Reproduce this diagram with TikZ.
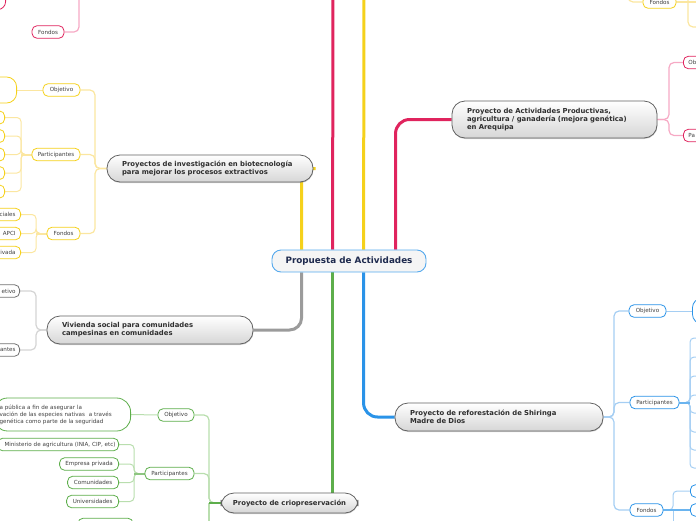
\documentclass[tikz,border=0pt]{standalone}
\usepackage{fontspec}
\setmainfont{DejaVu Sans}
\usetikzlibrary{calc,shadows}
\pgfdeclarelayer{bg}
\pgfsetlayers{bg,main}
\definecolor{pinkM}{HTML}{E0245E}
\definecolor{pinkL}{HTML}{F6A9C4}
\definecolor{yelM}{HTML}{F5D11B}
\definecolor{yelL}{HTML}{FBE6A0}
\definecolor{grayM}{HTML}{9B9B9B}
\definecolor{grayL}{HTML}{D4D4D4}
\definecolor{greM}{HTML}{5DAE4B}
\definecolor{greL}{HTML}{B9DEAE}
\definecolor{bluM}{HTML}{2A93E8}
\definecolor{bluL}{HTML}{A5CEF3}
\definecolor{navy}{HTML}{1E2A4E}
\tikzset{
  central/.style={draw=bluM!80, line width=0.9pt, fill=black!4, rounded corners=9pt,
    minimum width=154pt, minimum height=22pt, inner sep=0pt,
    font=\fontsize{8.8}{10}\selectfont\bfseries, text=navy},
  topic/.style={draw=black!62, line width=0.8pt, rounded corners=13pt, top color=white,
    bottom color=black!16, text=black!82, font=\fontsize{6.85}{8}\selectfont\bfseries,
    align=left, inner xsep=15pt, inner ysep=0pt,
    drop shadow={shadow xshift=0.4pt, shadow yshift=-1pt, opacity=0.35}},
  sub/.style={draw, line width=0.8pt, fill=white, rounded corners=5pt, minimum height=12.5pt,
    inner xsep=3pt, inner ysep=0pt, font=\fontsize{5.6}{6.5}\selectfont, text=black!75},
  br/.style={line width=3pt},
  ctwo/.style={line width=1.2pt, rounded corners=5pt},
  cthree/.style={line width=1pt, rounded corners=4pt},
}
\begin{document}
\begin{tikzpicture}[x=1pt,y=-1pt]
\useasboundingbox (0,0) rectangle (696,520);
\clip (0,0) rectangle (696,520);

% ---------- central and topics ----------
\node[central] (c) at (349,261) {Propuesta de Actividades};
\node[topic, text width=176pt, minimum height=27pt] (bio) at (210,168.5)
  {Proyectos de investigación en biotecnología\\para mejorar los procesos extractivos};
\node[topic, text width=175pt, minimum height=37pt] (prod) at (554.5,119.5)
  {Proyecto de Actividades Productivas,\\agricultura / ganadería (mejora genética)\\en Arequipa};
\node[topic, text width=176pt, minimum height=28pt] (viv) at (150,330)
  {Vivienda social para comunidades\\campesinas en comunidades};
\node[topic, text width=178pt, minimum height=28pt] (ref) at (499,417)
  {Proyecto de reforestación de Shiringa\\Madre de Dios};
\node[topic, align=center, inner xsep=4pt, minimum width=137pt, minimum height=20pt] (crio) at (289.5,503)
  {Proyecto de criopreservación};

% ---------- yellow (biotech) ----------
\node[sub, draw=yelM, minimum width=37pt] (yObj) at (61.5,90) {Objetivo};
\node[sub, draw=yelM, minimum width=48pt] (yPar) at (56,154.5) {Participantes};
\node[sub, draw=yelM, minimum width=33pt] (yFon) at (63.5,233.5) {Fondos};
\node[sub, draw=yelM, rounded corners=10pt, minimum width=100pt, minimum height=26pt, anchor=east] (yObjC) at (17,90) {};
\foreach \i/\yy in {1/117.5,2/136,3/154.5,4/173,5/191.5}{
  \node[sub, draw=yelM, minimum width=60pt, minimum height=13pt, anchor=east] (yp\i) at (5,\yy) {};
}
\node[sub, draw=yelM, anchor=east, text width=40pt, align=right, inner xsep=5pt] (yf1) at (21,214.5) {ciales};
\node[sub, draw=yelM, anchor=east, text width=40pt, align=right, inner xsep=5pt] (yf2) at (21,233.5) {APCI};
\node[sub, draw=yelM, anchor=east, text width=40pt, align=right, inner xsep=5pt] (yf3) at (21,252.5) {ivada};

% ---------- pink top left ----------
\node[sub, draw=pinkM, minimum width=32pt] (pFon) at (48,32) {Fondos};
\node[sub, draw=pinkM, rounded corners=8pt, minimum width=60pt, minimum height=30pt, anchor=south east] (pTL) at (6,10) {};

% ---------- gray (vivienda) ----------
\node[sub, draw=black!55, anchor=east, text width=40pt, align=right, inner xsep=4pt] (gObj) at (20,291) {etivo};
\node[sub, draw=black!55, anchor=east, text width=40pt, align=right, inner xsep=4pt] (gPar) at (20,350) {antes};

% ---------- pink right (productivas) ----------
\node[sub, draw=pinkM, anchor=west, text width=40pt, align=left, inner xsep=5pt] (pOb) at (683,62.5) {Ob};
\node[sub, draw=pinkM, anchor=west, text width=40pt, align=left, inner xsep=5pt] (pPa) at (683,135.5) {Pa};

% ---------- yellow top right ----------
\node[sub, draw=yelM, minimum width=33pt] (yFonR) at (659.5,2) {Fondos};

% ---------- blue (reforestation) ----------
\node[sub, draw=bluM, minimum width=37pt] (bObj) at (647.5,311) {Objetivo};
\node[sub, draw=bluM, minimum width=49pt] (bPar) at (654.5,402.5) {Participantes};
\node[sub, draw=bluM, minimum width=33pt] (bFon) at (646.5,510) {Fondos};
\node[sub, draw=bluM, rounded corners=10pt, minimum width=60pt, minimum height=26pt, anchor=west] (bObjC) at (692,311) {};
\node[sub, draw=bluM, minimum width=40pt, anchor=west] (bf1) at (690,491) {};
\node[sub, draw=bluM, minimum width=40pt, anchor=west] (bf2) at (690,510) {};

% ---------- green (crio) ----------
\node[sub, draw=greM, minimum width=36pt] (grObj) at (176,415) {Objetivo};
\node[sub, draw=greM, minimum width=49pt] (grPar) at (169.5,473.5) {Participantes};
\node[sub, draw=greM, anchor=east, rounded corners=14pt, text width=125pt, align=left, inner xsep=6pt,
  minimum height=33pt, font=\fontsize{5.6}{7}\selectfont] (grObjC) at (131,414.5)
  {a pública a fin de asegurar la\\vación de las especies nativas\ \ a través\\genética como parte de la seguridad};
\node[sub, draw=greM, anchor=east, text width=115pt, align=right, inner xsep=3pt] (gm1) at (119,444.5)
  {Ministerio de agricultura (INIA, CIP, etc)};
\node[sub, draw=greM, anchor=east, minimum width=59pt] (gm2) at (119,464) {Empresa privada};
\node[sub, draw=greM, anchor=east, minimum width=51pt] (gm3) at (119,482.5) {Comunidades};
\node[sub, draw=greM, anchor=east, minimum width=52pt] (gm4) at (119,501.5) {Universidades};
\node[sub, draw=greM, minimum width=55pt] (gBot) at (105.5,524.5) {};

% ---------- free ends / junctions ----------
\coordinate (ptop) at (333,-8);
\coordinate (ytop) at (364,-8);
\coordinate (yJ) at (95,168.5);
\coordinate (yPJ) at (21,154.5);
\coordinate (yFJ) at (36,233.5);
\coordinate (pUp) at (79,-10);
\coordinate (vJ) at (36,330);
\coordinate (prJ) at (669,119.5);
\coordinate (yTL) at (628,-10);
\coordinate (yR1) at (700,2);
\coordinate (yR2) at (700,27);
\coordinate (yR3) at (688,-10);
\coordinate (bJ) at (614,417);
\coordinate (bPJ) at (690,402.5);
\coordinate (bFJ) at (673,510);
\coordinate (bFdown) at (673,530);
\coordinate (grJ) at (209,503);
\coordinate (grDown) at (209,530);
\coordinate (grPJ) at (134,473.5);
\foreach \i/\yy in {1/338,2/357,3/376,4/395,5/413,6/432,7/450,8/468}{
  \coordinate (bp\i) at (700,\yy);
}

\begin{pgfonlayer}{bg}
% main branches
\draw[br, yelM, rounded corners=10pt] ($(c.north west)+(30,0)$) |- ($(bio.east)+(8,0)$) -- (bio.east);
\draw[br, pinkM] ($(c.north west)+(61,0)$) -- (ptop);
\draw[br, yelM] ($(c.north west)+(92,0)$) -- (ytop);
\draw[br, pinkM, rounded corners=14pt] ($(c.north west)+(124,0)$) |- (prod.west);
\draw[br, grayM, rounded corners=12pt] ($(c.south west)+(30,0)$) |- (viv.east);
\draw[br, greM] ($(c.south west)+(61,0)$) |- (crio.east);
\draw[br, bluM, rounded corners=14pt] ($(c.south west)+(92,0)$) |- (ref.west);

% yellow biotech
\draw[ctwo, yelL] (bio.west) -- (yJ) |- (yObj.east);
\draw[ctwo, yelL] (bio.west) -- (yJ) |- (yPar.east);
\draw[ctwo, yelL] (bio.west) -- (yJ) |- (yFon.east);
\draw[cthree, yelL] (yObj.west) -- (yObjC.east);
\foreach \i in {1,...,5}{ \draw[cthree, yelL] (yPar.west) -- (yPJ) |- (yp\i.east); }
\draw[line width=2pt, yelL] (yPar.west) -- (yPJ);
\foreach \i in {1,2,3}{ \draw[cthree, yelL] (yFon.west) -- (yFJ) |- (yf\i.east); }
\draw[line width=2pt, yelL] (yFon.west) -- (yFJ);

% pink top left
\draw[ctwo, pinkL] (pFon.east) -| (pUp);

% gray
\draw[ctwo, grayL] (viv.west) -- (vJ) |- (gObj.east);
\draw[ctwo, grayL] (viv.west) -- (vJ) |- (gPar.east);

% pink right
\draw[ctwo, pinkL] (prod.east) -- (prJ) |- (pOb.west);
\draw[ctwo, pinkL] (prod.east) -- (prJ) |- (pPa.west);

% yellow top right
\draw[ctwo, yelL] (yFonR.west) -| (yTL);
\draw[ctwo, yelL] (yFonR.east) -- (yR1);
\draw[ctwo, yelL] (yR3) |- (yR2);

% blue
\draw[ctwo, bluL] (ref.east) -- (bJ) |- (bObj.west);
\draw[ctwo, bluL] (ref.east) -- (bJ) |- (bPar.west);
\draw[ctwo, bluL] (ref.east) -- (bJ) |- (bFon.west);
\draw[cthree, bluL] (bObj.east) -- (bObjC.west);
\foreach \i in {1,...,8}{ \draw[cthree, bluL] (bPar.east) -- (bPJ) |- (bp\i); }
\draw[line width=2pt, bluM!70] (bPar.east) -- (bPJ);
\draw[cthree, bluL] (bFon.east) -- (bFJ) |- (bf1.west);
\draw[cthree, bluL] (bFJ) -- (bFdown);
\draw[line width=2pt, bluM!70] (bFon.east) -- (bf2.west);

% green
\draw[ctwo, greL] (crio.west) -- (grJ) |- (grObj.east);
\draw[ctwo, greL] (crio.west) -- (grJ) |- (grPar.east);
\draw[ctwo, greL] (grJ) -- (grDown);
\draw[line width=2pt, greM] (crio.west) -- (grJ);
\draw[cthree, greL] (grObj.west) -- (grObjC.east);
\draw[cthree, greL] (grPar.west) -- (grPJ) |- (gm1.east);
\draw[cthree, greL] (grPar.west) -- (grPJ) |- (gm2.east);
\draw[cthree, greL] (grPar.west) -- (grPJ) |- (gm3.east);
\draw[cthree, greL] (grPar.west) -- (grPJ) |- (gm4.east);
\draw[line width=2pt, greM!70] (grPar.west) -- (grPJ);
\end{pgfonlayer}
\end{tikzpicture}
\end{document}
